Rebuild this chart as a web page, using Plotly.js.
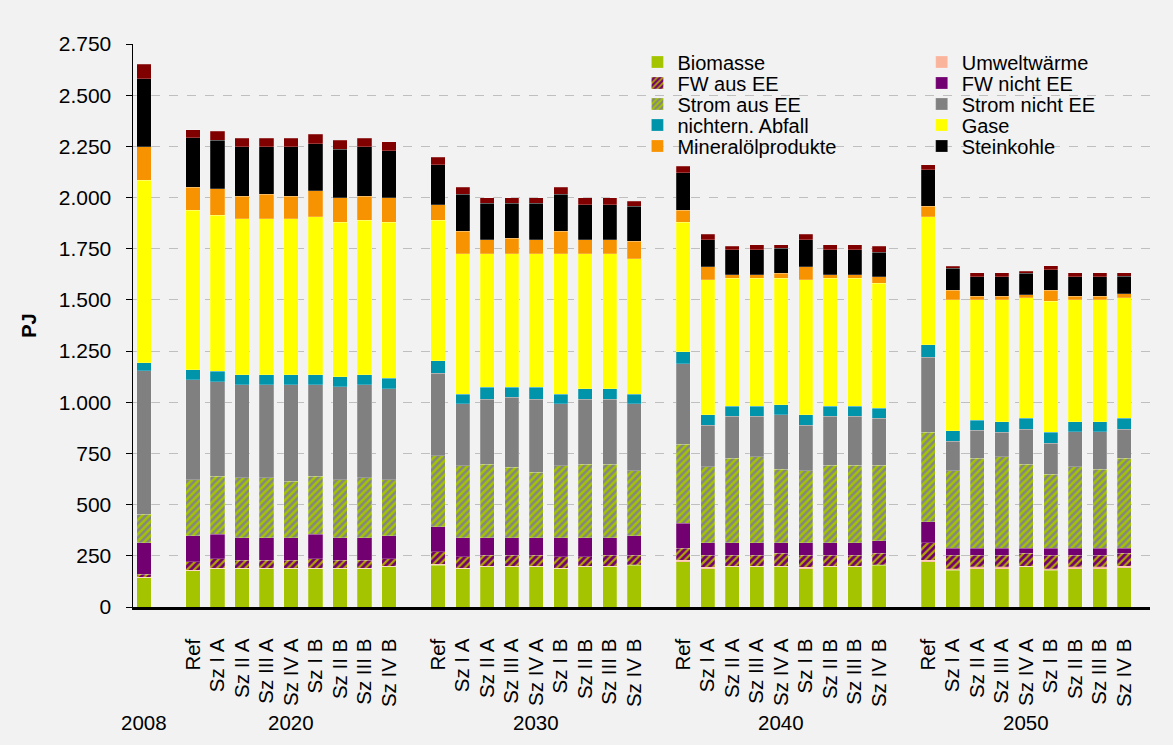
<!DOCTYPE html>
<html>
<head>
<meta charset="utf-8">
<script src="https://cdn.plot.ly/plotly-3.0.1.min.js"></script>
<style>
  html, body { margin: 0; padding: 0; background: #F2F2F2; }
  #chart { width: 1173px; height: 745px; }
</style>
</head>
<body>
<div id="chart"></div>
<script>
// Categories
const years = ['2008', '2020', '2030', '2040', '2050'];
const scenarios = ['Ref', 'Sz I A', 'Sz II A', 'Sz III A', 'Sz IV A', 'Sz I B', 'Sz II B', 'Sz III B', 'Sz IV B'];

// Series values (PJ) – order: 2008, then 9 scenarios for 2020, 2030, 2040, 2050
const biomasse = [143, 176,187,187,187,187,187,187,187,196, 204,187,196,196,196,187,196,196,204, 220,188,196,196,196,188,196,196,204, 220,179,187,187,196,179,187,187,192];
const umweltwaerme = [3, 3,3,3,3,3,3,3,3,3, 5,3,3,3,3,3,3,3,3, 8,5,3,3,3,5,3,3,3, 8,9,9,9,4,9,9,9,8];
const fwAusEE = [14, 41,46,38,38,38,46,38,38,37, 61,56,55,55,55,56,47,55,47, 59,61,55,55,64,61,55,55,56, 87,66,58,58,63,66,58,58,63];
const fwNichtEE = [153, 129,120,111,111,111,120,111,111,113, 121,93,85,85,85,93,93,85,93, 121,61,61,61,52,61,61,61,60, 102,33,33,33,24,33,33,33,24];
const stromAusEE = [140, 272,283,292,292,276,283,282,292,272, 348,351,359,343,318,351,359,359,318, 388,370,411,419,359,350,378,378,370, 436,378,439,447,411,362,398,387,439];
const stromNichtEE = [700, 488,462,454,454,470,446,454,454,446, 404,302,318,342,359,302,318,318,327, 391,204,205,197,264,224,238,238,230, 367,144,138,119,171,152,171,182,143];
const abfall = [41, 51,50,50,50,50,50,50,50,50, 60,48,57,49,57,48,49,49,48, 59,49,49,49,50,49,49,49,49, 60,52,49,52,52,52,49,49,52];
const gase = [890, 779,762,762,762,762,770,754,753,762, 685,685,652,652,652,685,660,660,661, 634,660,626,626,618,660,626,626,610, 625,641,589,597,589,641,597,597,589];
const mineraloel = [163, 111,129,110,119,110,129,121,119,121, 77,111,69,77,69,111,69,69,85, 57,65,17,17,25,65,17,17,32, 52,44,16,16,16,52,16,16,20];
const steinkohle = [333, 241,239,240,231,240,228,237,240,229, 196,180,179,171,179,180,171,171,171, 183,131,122,122,122,131,122,122,120, 179,109,96,96,105,101,96,96,86];
const sonstige = [70, 41,44,43,43,43,46,44,43,44, 36,35,27,27,27,35,35,35,24, 34,26,16,25,17,26,25,25,27, 25,10,19,19,9,21,19,19,17];

// Build x positions: single bar for first year, then groups with one-slot gap
const xPos = [0];
const tickVals = [];
const tickText = [];
const yearCenters = [0];
for (let g = 1; g < years.length; g++) {
  const start = 2 + (g - 1) * (scenarios.length + 1);
  scenarios.forEach((s, i) => {
    xPos.push(start + i);
    tickVals.push(start + i);
    tickText.push(s);
  });
  yearCenters.push(start + (scenarios.length - 1) / 2);
}

const series = [
  { name: 'Biomasse', y: biomasse, color: '#A5C400' },
  { name: 'Umweltwärme', y: umweltwaerme, color: '#FBB49C' },
  { name: 'FW aus EE', y: fwAusEE, color: '#720070', pattern: { shape: '/', fgcolor: '#B0A300', size: 5, solidity: 0.45 } },
  { name: 'FW nicht EE', y: fwNichtEE, color: '#720070' },
  { name: 'Strom aus EE', y: stromAusEE, color: '#858585', pattern: { shape: '/', fgcolor: '#A5C400', size: 5, solidity: 0.5 } },
  { name: 'Strom nicht EE', y: stromNichtEE, color: '#808080' },
  { name: 'nichtern. Abfall', y: abfall, color: '#0094AA' },
  { name: 'Gase', y: gase, color: '#FFFF00' },
  { name: 'Mineralölprodukte', y: mineraloel, color: '#F79200' },
  { name: 'Steinkohle', y: steinkohle, color: '#000000' },
  { name: 'Sonstige', y: sonstige, color: '#800000', hidden: true }
];

const fontFam = '"Liberation Sans", Arial, sans-serif';

const layout = {
  width: 1173,
  height: 745,
  paper_bgcolor: '#F2F2F2',
  plot_bgcolor: '#F2F2F2',
  separators: ',.',
  barmode: 'stack',
  margin: { l: 133, r: 23, t: 44, b: 138 },
  font: { family: fontFam, color: '#000000' },
  showlegend: true,
  xaxis: {
    range: [-0.45, 41.05],
    tickmode: 'array',
    tickvals: tickVals,
    ticktext: tickText,
    tickangle: -90,
    ticks: '',
    ticklabelstandoff: 21,
    tickfont: { family: fontFam, size: 20.5, color: '#000000' },
    showgrid: false,
    zeroline: false,
    showline: true,
    linecolor: '#000000',
    linewidth: 2.5
  },
  yaxis: {
    range: [0, 2750],
    tickmode: 'linear',
    tick0: 0,
    dtick: 250,
    tickformat: ',d',
    ticks: 'outside',
    ticklen: 6,
    tickcolor: '#000000',
    tickwidth: 1,
    ticklabelstandoff: 10,
    tickfont: { family: fontFam, size: 21, color: '#000000' },
    showline: true,
    linecolor: '#000000',
    linewidth: 1.5,
    showgrid: true,
    gridcolor: '#BFBFBF',
    griddash: 'dash',
    gridwidth: 1,
    zeroline: false,
    title: { text: '<b>PJ</b>', font: { family: fontFam, size: 20, color: '#000000' }, standoff: 16 }
  }
};

// One legend per entry, laid out in two columns like the original
const plotTopPx = 44, plotBottomPx = 607;
const traces = series.map((s, i) => {
  const legendKey = i === 0 ? 'legend' : 'legend' + (i + 1);
  const t = {
    type: 'bar',
    name: s.name,
    x: xPos,
    y: s.y,
    width: 0.58,
    marker: {
      color: s.color,
      line: { color: 'rgba(255,255,255,0.35)', width: 0.6 }
    },
    showlegend: !s.hidden,
    hovertemplate: '%{y} PJ<extra>' + s.name + '</extra>'
  };
  if (s.pattern) {
    t.marker.pattern = Object.assign({ bgcolor: s.color, fillmode: 'replace' }, s.pattern);
  }
  if (!s.hidden) {
    t.legend = legendKey;
    const col = i % 2, row = Math.floor(i / 2);
    const yc = 62 + 21 * row;
    layout[legendKey] = {
      orientation: 'v',
      bgcolor: 'rgba(0,0,0,0)',
      borderwidth: 0,
      font: { family: fontFam, size: 20, color: '#000000' },
      xanchor: 'left',
      yanchor: 'middle',
      x: col === 0 ? 0.496 : 0.7755,
      y: (plotBottomPx - yc) / (plotBottomPx - plotTopPx),
      itemwidth: 30
    };
  }
  return t;
});

layout.annotations = years.map((yr, i) => ({
  text: yr,
  x: yearCenters[i],
  xref: 'x',
  y: -0.205,
  yref: 'paper',
  yanchor: 'middle',
  xanchor: 'center',
  showarrow: false,
  font: { family: fontFam, size: 20.5, color: '#000000' }
}));

Plotly.newPlot('chart', traces, layout, { displayModeBar: false, staticPlot: true });
</script>
</body>
</html>
